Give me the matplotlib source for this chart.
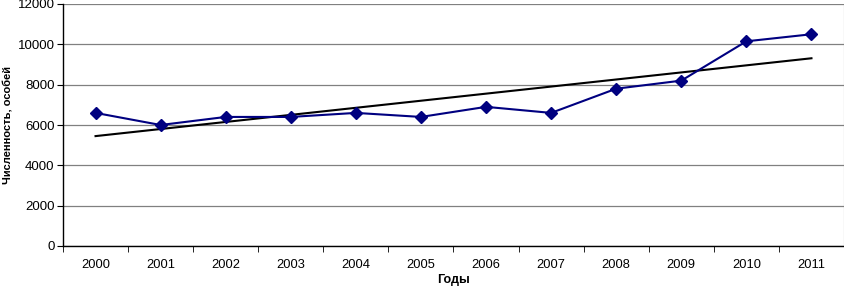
import matplotlib
matplotlib.use("Agg")
import matplotlib.pyplot as plt
import numpy as np

years = ["2000", "2001", "2002", "2003", "2004", "2005", "2006", "2007", "2008", "2009", "2010", "2011"]
values = [6600, 6000, 6400, 6400, 6600, 6400, 6900, 6600, 7800, 8200, 10150, 10500]
yticks = [0, 2000, 4000, 6000, 8000, 10000, 12000]

plt.rcParams['font.family'] = ['Liberation Sans', 'DejaVu Sans']

fig = plt.figure(figsize=(8.45, 2.86), dpi=100)
ax = fig.add_axes([63/845, 1-246/286, (844-63)/845, (246-4)/286])

x = np.arange(len(years))
coef = np.polyfit(x, values, 1)
trend = np.polyval(coef, x)

ax.plot(x, values, color='#000080', lw=1.5, marker='D', markersize=6.5, zorder=3)
ax.plot(x, trend, color='black', lw=1.5, zorder=2)

ax.set_xlim(-0.5, len(years)-0.5)
ax.set_ylim(0, 12000)
ax.set_yticks(yticks)
ax.set_yticklabels([str(v) for v in yticks], fontsize=9.5)
ax.set_xticks(x)
ax.set_xticklabels(years, fontsize=9.3)
ax.set_xticks(np.arange(-0.5, len(years)), minor=True)
ax.tick_params(axis='x', which='major', length=0, pad=9)
ax.tick_params(axis='x', which='minor', length=4, direction='out', color='black')
ax.tick_params(axis='y', length=4, direction='out', pad=2)
ax.yaxis.grid(True, color='#808080', lw=0.9)
ax.set_axisbelow(True)

for s in ['left', 'bottom']:
    ax.spines[s].set_color('black')
    ax.spines[s].set_linewidth(1.0)
ax.spines['right'].set_color('#808080')
ax.spines['top'].set_visible(False)

ax.set_xlabel('Годы', fontsize=9, fontweight='bold', va='center')
ax.xaxis.set_label_coords(0.5, (246-280)/242)
ax.set_ylabel('Численность, особей', fontsize=8, fontweight='bold', va='center')
ax.yaxis.set_label_coords((9-63)/781, 0.5)

fig.savefig('out.png', dpi=100)
